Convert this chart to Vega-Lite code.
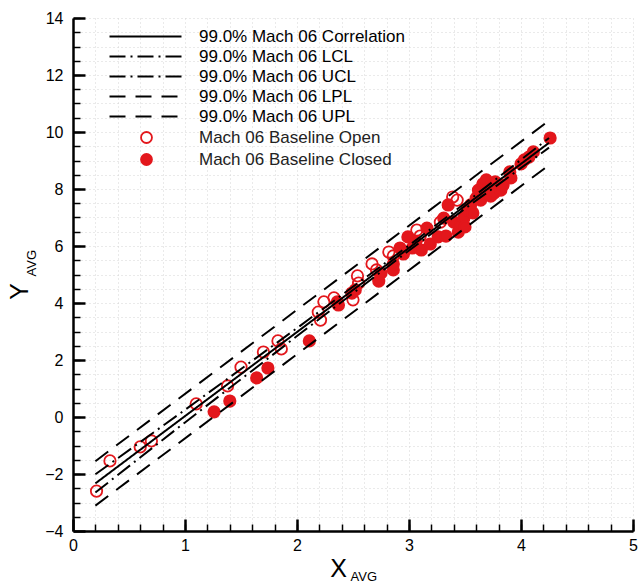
{
  "$schema": "https://vega.github.io/schema/vega-lite/v6.json",
  "width": 560,
  "height": 513,
  "autosize": {"type": "none"},
  "padding": {"left": 73, "top": 18, "right": 6, "bottom": 57},
  "background": "white",
  "config": {
    "view": {"stroke": null},
    "font": "Liberation Sans",
    "axis": {"labelFlush": false, "labelOverlap": false, "titleFontWeight": "normal", "titleColor": "black", "labelColor": "black"}
  },
  "datasets": {
    "fits": [
      {"x": 0.2, "y": -2.33, "line": "99.0% Mach 06 Correlation"},
      {"x": 4.25, "y": 9.62, "line": "99.0% Mach 06 Correlation"},
      {"x": 0.2, "y": -2.65, "line": "99.0% Mach 06 LCL"},
      {"x": 1.0, "y": -0.19, "line": "99.0% Mach 06 LCL"},
      {"x": 2.0, "y": 2.84, "line": "99.0% Mach 06 LCL"},
      {"x": 3.0, "y": 5.84, "line": "99.0% Mach 06 LCL"},
      {"x": 3.5, "y": 7.31, "line": "99.0% Mach 06 LCL"},
      {"x": 4.25, "y": 9.45, "line": "99.0% Mach 06 LCL"},
      {"x": 0.2, "y": -2.01, "line": "99.0% Mach 06 UCL"},
      {"x": 1.0, "y": 0.25, "line": "99.0% Mach 06 UCL"},
      {"x": 2.0, "y": 3.12, "line": "99.0% Mach 06 UCL"},
      {"x": 3.0, "y": 6.02, "line": "99.0% Mach 06 UCL"},
      {"x": 3.5, "y": 7.50, "line": "99.0% Mach 06 UCL"},
      {"x": 4.25, "y": 9.79, "line": "99.0% Mach 06 UCL"},
      {"x": 0.2, "y": -3.11, "line": "99.0% Mach 06 LPL"},
      {"x": 4.25, "y": 8.84, "line": "99.0% Mach 06 LPL"},
      {"x": 0.2, "y": -1.55, "line": "99.0% Mach 06 UPL"},
      {"x": 4.25, "y": 10.40, "line": "99.0% Mach 06 UPL"}
    ],
    "open": [
      {"x": 0.21, "y": -2.60, "series": "Mach 06 Baseline Open"},
      {"x": 0.33, "y": -1.54, "series": "Mach 06 Baseline Open"},
      {"x": 0.60, "y": -1.05, "series": "Mach 06 Baseline Open"},
      {"x": 0.70, "y": -0.84, "series": "Mach 06 Baseline Open"},
      {"x": 1.10, "y": 0.46, "series": "Mach 06 Baseline Open"},
      {"x": 1.38, "y": 1.09, "series": "Mach 06 Baseline Open"},
      {"x": 1.50, "y": 1.75, "series": "Mach 06 Baseline Open"},
      {"x": 1.70, "y": 2.28, "series": "Mach 06 Baseline Open"},
      {"x": 1.83, "y": 2.67, "series": "Mach 06 Baseline Open"},
      {"x": 1.86, "y": 2.39, "series": "Mach 06 Baseline Open"},
      {"x": 2.19, "y": 3.68, "series": "Mach 06 Baseline Open"},
      {"x": 2.21, "y": 3.40, "series": "Mach 06 Baseline Open"},
      {"x": 2.24, "y": 4.04, "series": "Mach 06 Baseline Open"},
      {"x": 2.33, "y": 4.18, "series": "Mach 06 Baseline Open"},
      {"x": 2.50, "y": 4.11, "series": "Mach 06 Baseline Open"},
      {"x": 2.54, "y": 4.95, "series": "Mach 06 Baseline Open"},
      {"x": 2.55, "y": 4.70, "series": "Mach 06 Baseline Open"},
      {"x": 2.67, "y": 5.37, "series": "Mach 06 Baseline Open"},
      {"x": 2.71, "y": 5.16, "series": "Mach 06 Baseline Open"},
      {"x": 2.82, "y": 5.79, "series": "Mach 06 Baseline Open"},
      {"x": 2.86, "y": 5.65, "series": "Mach 06 Baseline Open"},
      {"x": 3.07, "y": 6.56, "series": "Mach 06 Baseline Open"},
      {"x": 3.10, "y": 6.35, "series": "Mach 06 Baseline Open"},
      {"x": 3.28, "y": 6.84, "series": "Mach 06 Baseline Open"},
      {"x": 3.39, "y": 7.72, "series": "Mach 06 Baseline Open"},
      {"x": 3.43, "y": 7.61, "series": "Mach 06 Baseline Open"}
    ],
    "closed": [
      {"x": 1.26, "y": 0.18, "series": "Mach 06 Baseline Closed"},
      {"x": 1.40, "y": 0.56, "series": "Mach 06 Baseline Closed"},
      {"x": 1.64, "y": 1.37, "series": "Mach 06 Baseline Closed"},
      {"x": 1.74, "y": 1.72, "series": "Mach 06 Baseline Closed"},
      {"x": 2.11, "y": 2.67, "series": "Mach 06 Baseline Closed"},
      {"x": 2.36, "y": 4.04, "series": "Mach 06 Baseline Closed"},
      {"x": 2.37, "y": 3.93, "series": "Mach 06 Baseline Closed"},
      {"x": 2.49, "y": 4.35, "series": "Mach 06 Baseline Closed"},
      {"x": 2.52, "y": 4.46, "series": "Mach 06 Baseline Closed"},
      {"x": 2.73, "y": 4.77, "series": "Mach 06 Baseline Closed"},
      {"x": 2.75, "y": 5.05, "series": "Mach 06 Baseline Closed"},
      {"x": 2.86, "y": 5.16, "series": "Mach 06 Baseline Closed"},
      {"x": 2.86, "y": 5.37, "series": "Mach 06 Baseline Closed"},
      {"x": 2.92, "y": 5.93, "series": "Mach 06 Baseline Closed"},
      {"x": 2.95, "y": 5.72, "series": "Mach 06 Baseline Closed"},
      {"x": 2.99, "y": 6.32, "series": "Mach 06 Baseline Closed"},
      {"x": 3.03, "y": 5.93, "series": "Mach 06 Baseline Closed"},
      {"x": 3.06, "y": 6.14, "series": "Mach 06 Baseline Closed"},
      {"x": 3.11, "y": 5.86, "series": "Mach 06 Baseline Closed"},
      {"x": 3.16, "y": 6.63, "series": "Mach 06 Baseline Closed"},
      {"x": 3.19, "y": 6.07, "series": "Mach 06 Baseline Closed"},
      {"x": 3.26, "y": 6.32, "series": "Mach 06 Baseline Closed"},
      {"x": 3.31, "y": 6.98, "series": "Mach 06 Baseline Closed"},
      {"x": 3.33, "y": 6.35, "series": "Mach 06 Baseline Closed"},
      {"x": 3.35, "y": 7.44, "series": "Mach 06 Baseline Closed"},
      {"x": 3.40, "y": 6.84, "series": "Mach 06 Baseline Closed"},
      {"x": 3.44, "y": 6.49, "series": "Mach 06 Baseline Closed"},
      {"x": 3.46, "y": 6.74, "series": "Mach 06 Baseline Closed"},
      {"x": 3.49, "y": 6.98, "series": "Mach 06 Baseline Closed"},
      {"x": 3.50, "y": 6.67, "series": "Mach 06 Baseline Closed"},
      {"x": 3.52, "y": 7.26, "series": "Mach 06 Baseline Closed"},
      {"x": 3.55, "y": 7.44, "series": "Mach 06 Baseline Closed"},
      {"x": 3.57, "y": 7.16, "series": "Mach 06 Baseline Closed"},
      {"x": 3.60, "y": 7.68, "series": "Mach 06 Baseline Closed"},
      {"x": 3.62, "y": 7.96, "series": "Mach 06 Baseline Closed"},
      {"x": 3.64, "y": 7.61, "series": "Mach 06 Baseline Closed"},
      {"x": 3.66, "y": 8.18, "series": "Mach 06 Baseline Closed"},
      {"x": 3.69, "y": 8.32, "series": "Mach 06 Baseline Closed"},
      {"x": 3.71, "y": 8.04, "series": "Mach 06 Baseline Closed"},
      {"x": 3.73, "y": 7.75, "series": "Mach 06 Baseline Closed"},
      {"x": 3.76, "y": 7.86, "series": "Mach 06 Baseline Closed"},
      {"x": 3.77, "y": 8.25, "series": "Mach 06 Baseline Closed"},
      {"x": 3.82, "y": 7.96, "series": "Mach 06 Baseline Closed"},
      {"x": 3.84, "y": 8.14, "series": "Mach 06 Baseline Closed"},
      {"x": 3.90, "y": 8.60, "series": "Mach 06 Baseline Closed"},
      {"x": 3.91, "y": 8.39, "series": "Mach 06 Baseline Closed"},
      {"x": 4.00, "y": 8.88, "series": "Mach 06 Baseline Closed"},
      {"x": 4.03, "y": 9.02, "series": "Mach 06 Baseline Closed"},
      {"x": 4.07, "y": 9.12, "series": "Mach 06 Baseline Closed"},
      {"x": 4.11, "y": 9.30, "series": "Mach 06 Baseline Closed"},
      {"x": 4.26, "y": 9.79, "series": "Mach 06 Baseline Closed"}
    ]
  },
  "layer": [
    {
      "data": {"name": "open"},
      "mark": {"type": "point", "filled": true, "stroke": "#e3171c", "strokeWidth": 1.8, "size": 130, "opacity": 1},
      "encoding": {
        "x": {
          "field": "x", "type": "quantitative",
          "scale": {"domain": [0, 5], "nice": false, "zero": false},
          "axis": {
            "orient": "bottom", "values": [0, 1, 2, 3, 4, 5], "format": "d", "grid": false,
            "domainColor": "black", "domainWidth": 2.5, "tickColor": "black", "tickWidth": 2.5, "tickSize": -12,
            "labelFontSize": 16, "labelPadding": 18,
            "title": "X", "titleFontSize": 25, "titleX": 265, "titleY": 45, "titleAlign": "center", "titleBaseline": "alphabetic"
          }
        },
        "y": {
          "field": "y", "type": "quantitative",
          "scale": {"domain": [-4, 14], "nice": false, "zero": false},
          "axis": {
            "orient": "left", "values": [-4, -2, 0, 2, 4, 6, 8, 10, 12, 14], "format": "d", "grid": false,
            "domainColor": "black", "domainWidth": 2.5, "tickColor": "black", "tickWidth": 2.5, "tickSize": -12,
            "labelFontSize": 16, "labelPadding": 22,
            "title": "Y", "titleFontSize": 25, "titleAngle": 270, "titleX": -46, "titleY": 273, "titleAlign": "center", "titleBaseline": "alphabetic"
          }
        },
        "fill": {
          "field": "series", "type": "nominal",
          "scale": {"domain": ["Mach 06 Baseline Open", "Mach 06 Baseline Closed"], "range": ["transparent", "#e3171c"]},
          "legend": {
            "orient": "none", "legendX": 65, "legendY": 111, "title": null, "padding": 0,
            "symbolType": "circle", "symbolSize": 120, "symbolStrokeColor": "#e3171c", "symbolStrokeWidth": 1.8,
            "labelFontSize": 17, "labelColor": "#222", "labelOffset": 44, "labelLimit": 400, "symbolOffset": 0, "rowPadding": 3
          }
        }
      }
    },
    {
      "data": {"name": "closed"},
      "mark": {"type": "point", "filled": true, "stroke": "#e3171c", "strokeWidth": 1.8, "size": 130, "opacity": 1},
      "encoding": {
        "x": {
          "field": "x", "type": "quantitative",
          "axis": {
            "orient": "bottom", "domain": false, "ticks": false, "labels": false, "grid": false,
            "title": "AVG", "titleFontSize": 13, "titleX": 277, "titleY": 49, "titleAlign": "left", "titleBaseline": "alphabetic"
          }
        },
        "y": {
          "field": "y", "type": "quantitative",
          "axis": {
            "orient": "left", "domain": false, "ticks": false, "labels": false, "grid": false,
            "title": "AVG", "titleFontSize": 13, "titleAngle": 270, "titleX": -38, "titleY": 258, "titleAlign": "left", "titleBaseline": "alphabetic"
          }
        },
        "fill": {"field": "series", "type": "nominal"}
      }
    },
    {
      "data": {"name": "fits"},
      "mark": {"type": "line", "color": "black", "strokeWidth": 2},
      "encoding": {
        "x": {
          "field": "x", "type": "quantitative",
          "axis": {
            "orient": "bottom", "domain": false, "labels": false, "title": null,
            "values": [0.2, 0.4, 0.6, 0.8, 1, 1.2, 1.4, 1.6, 1.8, 2, 2.2, 2.4, 2.6, 2.8, 3, 3.2, 3.4, 3.6, 3.8, 4, 4.2, 4.4, 4.6, 4.8, 5],
            "tickColor": "black", "tickWidth": 1.5, "tickSize": -7,
            "grid": true, "gridColor": "#d4d4d4", "gridDash": [1, 3], "gridWidth": 1
          }
        },
        "y": {
          "field": "y", "type": "quantitative",
          "axis": {
            "orient": "left", "domain": false, "labels": false, "title": null,
            "values": [-3.5, -3, -2.5, -2, -1.5, -1, -0.5, 0, 0.5, 1, 1.5, 2, 2.5, 3, 3.5, 4, 4.5, 5, 5.5, 6, 6.5, 7, 7.5, 8, 8.5, 9, 9.5, 10, 10.5, 11, 11.5, 12, 12.5, 13, 13.5, 14],
            "tickColor": "black", "tickWidth": 1.5, "tickSize": -7,
            "grid": true, "gridColor": "#d4d4d4", "gridDash": [1, 3], "gridWidth": 1
          }
        },
        "strokeDash": {
          "field": "line", "type": "nominal",
          "scale": {
            "domain": ["99.0% Mach 06 Correlation", "99.0% Mach 06 LCL", "99.0% Mach 06 UCL", "99.0% Mach 06 LPL", "99.0% Mach 06 UPL"],
            "range": [[1, 0], [16, 5, 2, 5], [16, 5, 2, 5], [16, 10], [16, 10]]
          },
          "legend": {
            "orient": "none", "legendX": 64, "legendY": 10, "title": null, "padding": 0,
            "symbolType": "M-6,0H6", "symbolSize": 144, "symbolStrokeColor": "black", "symbolStrokeWidth": 2,
            "labelFontSize": 17, "labelColor": "black", "labelOffset": 45, "labelLimit": 400, "symbolOffset": 0, "rowPadding": 2
          }
        }
      }
    }
  ],
  "resolve": {"axis": {"x": "independent", "y": "independent"}}
}
